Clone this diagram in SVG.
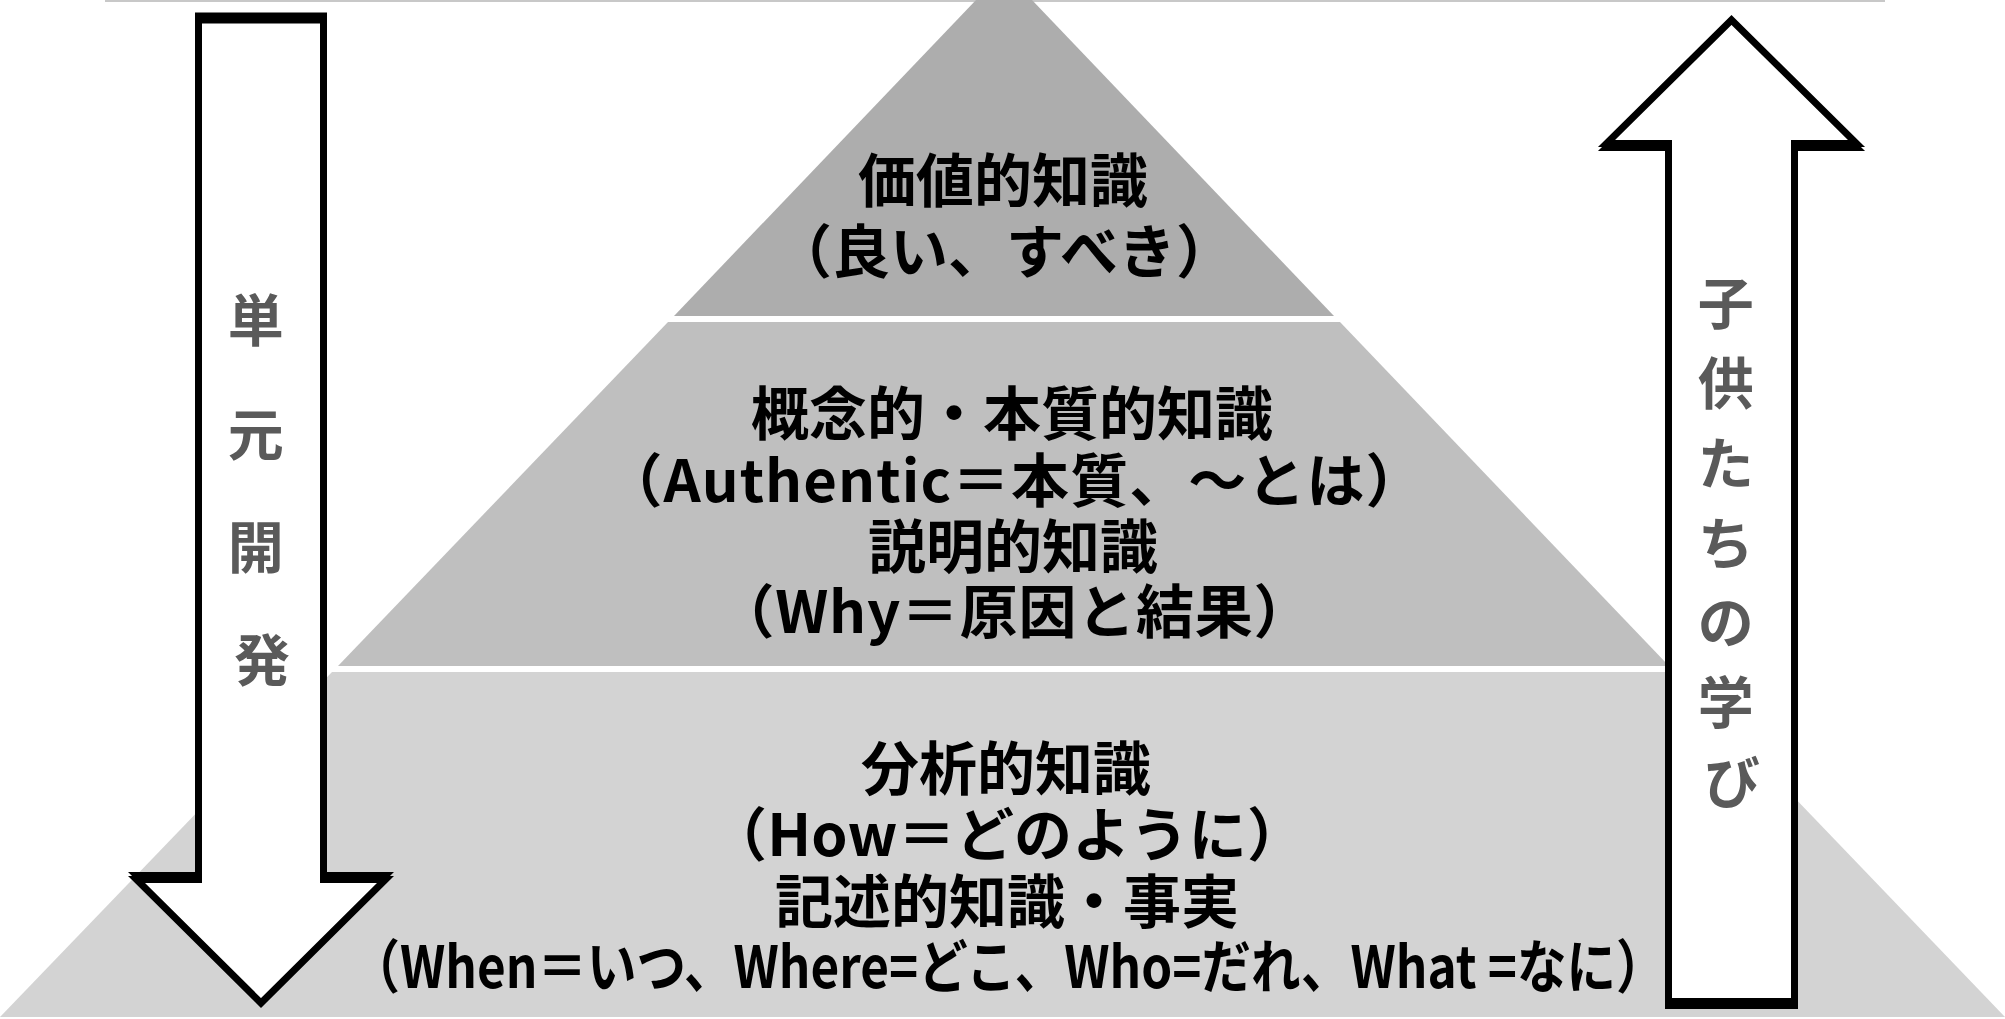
<svg xmlns="http://www.w3.org/2000/svg" width="2005" height="1019" viewBox="0 0 2005 1019">
  <style>
    .main { font-family: "Noto Sans CJK JP", "Noto Sans", sans-serif; font-weight: 700; font-size: 58px; fill: #000; text-anchor: middle; }
    .side { font-family: "Noto Sans CJK JP", "Noto Sans", sans-serif; font-weight: 700; font-size: 56px; fill: #5a5a5a; text-anchor: middle; }
    .arrow { fill: #fff; stroke: #000; stroke-width: 7; stroke-linejoin: miter; stroke-miterlimit: 10; }
    .shadow { fill: #000; stroke: #000; stroke-width: 7; stroke-linejoin: miter; stroke-miterlimit: 10; }
  </style>
  <defs>
    <path id="downArrowShape" d="M198.5,20 L323.5,20 L323.5,879.5 L385.5,879.5 L261,1003 L136.5,879.5 L198.5,879.5 Z"/>
    <path id="upArrowShape" d="M1668.5,1001.5 L1668.5,143.5 L1606.5,143.5 L1731.5,20 L1856.5,143.5 L1794.5,143.5 L1794.5,1001.5 Z"/>
  </defs>
  <rect x="0" y="0" width="2005" height="1019" fill="#fff"/>

  <g id="top-rule">
    <line x1="105" y1="1" x2="1885" y2="1" stroke="#c8c8c8" stroke-width="2"/>
  </g>

  <g id="tier-top">
    <polygon points="976,0 1032,0 1334,316 674,316" fill="#adadad"/>
    <text class="main" x="1003" y="202">価値的知識</text>
    <text class="main" x="1004" y="273">（良い、すべき）</text>
  </g>

  <g id="tier-middle">
    <polygon points="668,322 1340,322 1669,666 338,666" fill="#bfbfbf"/>
    <text class="main" x="1012" y="435">概念的・本質的知識</text>
    <text class="main" x="1014" y="502" textLength="819" lengthAdjust="spacing">（Authentic＝本質、～とは）</text>
    <text class="main" x="1013" y="568">説明的知識</text>
    <text class="main" x="1014" y="633" textLength="595" lengthAdjust="spacing">（Why＝原因と結果）</text>
  </g>

  <g id="tier-bottom">
    <polygon points="332,672 1674,672 2005,1017 0,1017" fill="#d3d3d3"/>
    <text class="main" x="1006" y="790">分析的知識</text>
    <text class="main" x="1007" y="856" textLength="596" lengthAdjust="spacing">（How＝どのように）</text>
    <text class="main" x="1007" y="923">記述的知識・事実</text>
    <text class="main" x="1008" y="988" textLength="1315" lengthAdjust="spacingAndGlyphs">（When＝いつ、Where=どこ、Who=だれ、What =なに）</text>
  </g>

  <g id="arrow-unit-development">
    <use href="#downArrowShape" class="shadow" transform="translate(0,-4)"/>
    <use href="#downArrowShape" class="arrow"/>
    <text class="side" x="262">
      <tspan x="262" y="341">単</tspan>
      <tspan x="262" y="455">元</tspan>
      <tspan x="262" y="568">開</tspan>
      <tspan x="262" y="681">発</tspan>
    </text>
  </g>

  <g id="arrow-children-learning">
    <use href="#upArrowShape" class="shadow" transform="translate(0,4)"/>
    <use href="#upArrowShape" class="arrow"/>
    <text class="side" x="1732">
      <tspan x="1732" y="324">子</tspan>
      <tspan x="1732" y="404">供</tspan>
      <tspan x="1732" y="484">た</tspan>
      <tspan x="1732" y="564">ち</tspan>
      <tspan x="1732" y="643">の</tspan>
      <tspan x="1732" y="723">学</tspan>
      <tspan x="1732" y="803">び</tspan>
    </text>
  </g>

  <g id="connectors"/>
</svg>
